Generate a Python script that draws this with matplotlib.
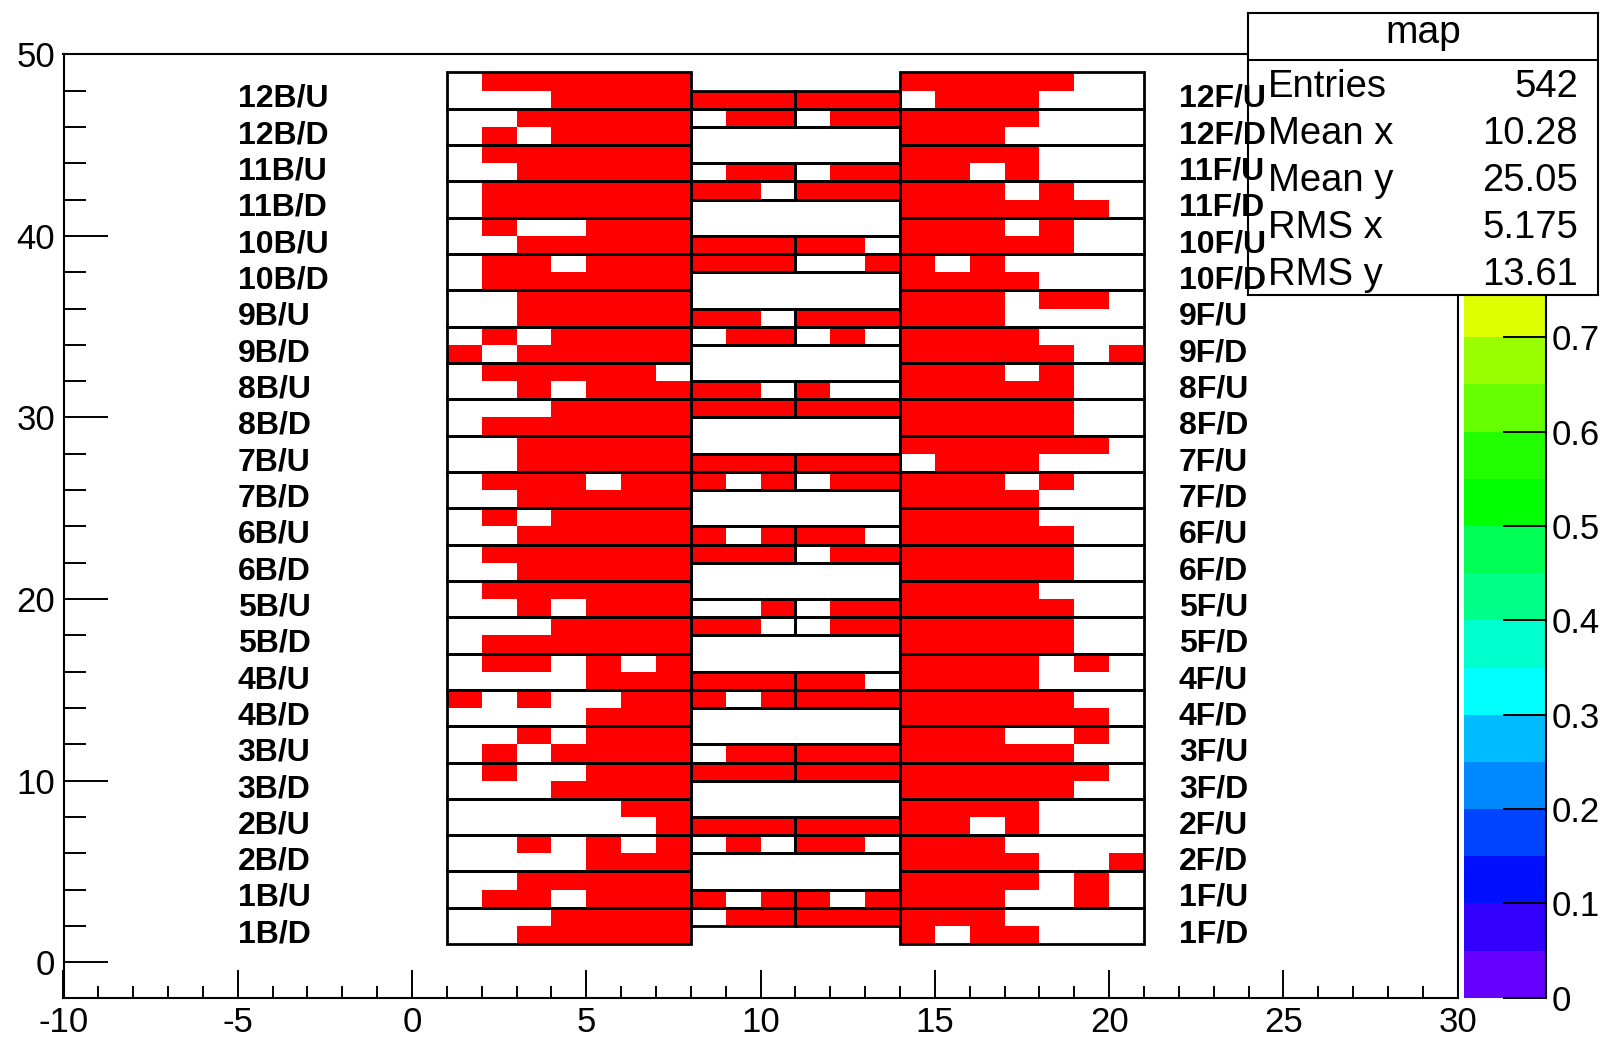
import numpy as np
import matplotlib
matplotlib.use("Agg")
import matplotlib.pyplot as plt
from matplotlib.colors import ListedColormap, Normalize
from matplotlib.patches import Rectangle
from matplotlib.ticker import MultipleLocator, FixedLocator, FuncFormatter

plt.rcParams['font.family'] = ['Liberation Sans', 'DejaVu Sans']
plt.rcParams['axes.unicode_minus'] = False

# Strip hit map, one string per strip row from y=1 (bottom) to y=49 (top);
# '#' marks a strip that fired, '.' an empty strip.
hit_rows = [
    "..#####......#.##...",
    "...####.########....",
    ".##.####.##.####..#.",
    "..#####......####.#.",
    "....###......####..#",
    "..#.#.#.#.##.###....",
    "......#########.#...",
    ".....##......####...",
    "...####......#####..",
    ".#..###############.",
    ".#.####.##########..",
    "..#.###......###..#.",
    "....###......######.",
    "#.#..###.#########..",
    "....########.####...",
    ".##.#.#......####.#.",
    ".######......#####..",
    "...######..#######..",
    "..#.###..#.#######..",
    ".######......####...",
    "..#####......#####..",
    ".#########.#######..",
    "..######.###.#####..",
    ".#.####......####...",
    "..#####......####...",
    ".###.###.#.#####.#..",
    "..###########.###...",
    "..#####......######.",
    ".######......#####..",
    "...###############..",
    "..#.#####.#..#####..",
    ".#####.......###.#..",
    "#.#####......#####.#",
    ".#.####.##.#.####...",
    "..#######.######....",
    "..#####......###.##.",
    ".######......####...",
    ".##.######..##.#....",
    "..##########.#####..",
    ".#..###......###.#..",
    ".######......######.",
    ".########.######.#..",
    "..#####.##.####.#...",
    ".######......####...",
    ".#.####......###....",
    "..#####.##.######...",
    "...##########.###...",
    ".######......#####..",
]

back_labels = ["1B/D", "1B/U", "2B/D", "2B/U", "3B/D", "3B/U", "4B/D", "4B/U",
               "5B/D", "5B/U", "6B/D", "6B/U", "7B/D", "7B/U", "8B/D", "8B/U",
               "9B/D", "9B/U", "10B/D", "10B/U", "11B/D", "11B/U", "12B/D", "12B/U"]
front_labels = ["1F/D", "1F/U", "2F/D", "2F/U", "3F/D", "3F/U", "4F/D", "4F/U",
                "5F/D", "5F/U", "6F/D", "6F/U", "7F/D", "7F/U", "8F/D", "8F/U",
                "9F/D", "9F/U", "10F/D", "10F/U", "11F/D", "11F/U", "12F/D", "12F/U"]

stats_title = "map"
stats_names = ["Entries", "Mean x", "Mean y", "RMS x", "RMS y"]
stats_values = ["542", "10.28", "25.05", "5.175", "13.61"]

# 20-level rainbow palette (0 -> 1)
palette = ["#6600ff", "#3300ff", "#0010ff", "#0044ff", "#0088ff",
           "#00bbff", "#00ffff", "#00ffcc", "#00ff88", "#00ff55",
           "#00ff00", "#22ff00", "#66ff00", "#99ff00", "#ddff00",
           "#ffff00", "#ffcc00", "#ff8800", "#ff4400", "#ff0000"]

# ---------------------------------------------------------------- layout
W, H = 1610, 1041
fig = plt.figure(figsize=(W / 100, H / 100), dpi=100)


def fig_rect(left, top, right, bottom):
    return [left / W, 1 - bottom / H, (right - left) / W, (bottom - top) / H]


ax = fig.add_axes(fig_rect(63.5, 54.3, 1457.7, 997.7))
cax = fig.add_axes(fig_rect(1464, 54.3, 1545.7, 997.7))

# ---------------------------------------------------------------- hit map
grid = np.array([[1.0 if c == "#" else np.nan for c in row] for row in hit_rows])
grid = np.ma.masked_invalid(grid)
x_edges = np.arange(1, grid.shape[1] + 2)
y_edges = np.arange(1, grid.shape[0] + 2)
cmap = ListedColormap(palette)
mesh = ax.pcolormesh(x_edges, y_edges, grid, cmap=cmap, norm=Normalize(0, 1),
                     edgecolors="none", antialiased=False, zorder=1)

# detector outline: strip rows of the two half-planes, the central strips
# and the dead regions between them
lw = 2.0


def outline(x0, y0, x1, y1):
    ax.add_patch(Rectangle((x0, y0), x1 - x0, y1 - y0, fill=False,
                           ec="black", lw=lw, zorder=3))


for k in range(24):
    y0 = 1 + 2 * k
    outline(1, y0, 8, y0 + 2)
    outline(14, y0, 21, y0 + 2)
for m in range(12):
    for y0 in (2 + 4 * m, 3 + 4 * m):
        outline(8, y0, 11, y0 + 1)
        outline(11, y0, 14, y0 + 1)
for m in range(11):
    outline(8, 4 + 4 * m, 14, 6 + 4 * m)

# ---------------------------------------------------------------- axes
tick_fs = 25
ax.set_xlim(-10, 30)
ax.set_ylim(-1.95, 50)
ax.xaxis.set_major_locator(MultipleLocator(5))
ax.xaxis.set_minor_locator(MultipleLocator(1))
ax.yaxis.set_major_locator(MultipleLocator(10))
ax.yaxis.set_minor_locator(MultipleLocator(2))
ax.tick_params(axis="x", which="major", direction="in", length=20, width=1.4,
               labelsize=tick_fs, pad=6, top=False)
ax.tick_params(axis="x", which="minor", direction="in", length=9, width=1.4, top=False)
ax.tick_params(axis="y", which="major", direction="in", length=31.7, width=1.4,
               labelsize=tick_fs, pad=6, right=False)
ax.tick_params(axis="y", which="minor", direction="in", length=15.8, width=1.4,
               right=False)
for s in ax.spines.values():
    s.set_linewidth(1.5)

# ---------------------------------------------------------------- colour scale
cb = fig.colorbar(mesh, cax=cax)
cb.outline.set_visible(False)
cax.yaxis.set_major_locator(FixedLocator(np.round(np.arange(0, 1.01, 0.1), 2)))
cax.yaxis.set_major_formatter(FuncFormatter(lambda v, p: "%g" % round(v, 2)))
cax.yaxis.set_minor_locator(FixedLocator([]))
cax.tick_params(axis="y", which="major", direction="in", length=31, width=1.4,
                labelsize=tick_fs, pad=4, right=True, left=False)
cax.plot([1, 1], [0, 1], transform=cax.transAxes, color="black", lw=1.5,
         clip_on=False, zorder=5)

# ---------------------------------------------------------------- statistics box
sb_l, sb_t, sb_r, sb_b = 1247.7, 12.7, 1598, 295
sax = fig.add_axes(fig_rect(sb_l, sb_t, sb_r, sb_b))
sax.set_zorder(10)
sax.set_xlim(sb_l, sb_r)
sax.set_ylim(sb_b, sb_t)
sax.set_xticks([])
sax.set_yticks([])
sax.set_facecolor("white")
for s in sax.spines.values():
    s.set_linewidth(1.5)
sax.plot([sb_l, sb_r], [60, 60], color="black", lw=1.5)
sax.text((sb_l + sb_r) / 2, 43.3, stats_title, ha="center", va="baseline", fontsize=28)
for n, (name, val) in enumerate(zip(stats_names, stats_values)):
    yb = 96.7 + 47 * n
    sax.text(1267.7, yb, name, ha="left", va="baseline", fontsize=27.5)
    sax.text(1578, yb, val, ha="right", va="baseline", fontsize=27.5)

# ---------------------------------------------------------------- layer names
for k in range(24):
    yb = 1.1 + 2 * k
    fig.text(-5, yb, back_labels[k], transform=ax.transData, ha="left",
             va="baseline", fontsize=23, fontweight="bold", zorder=11)
    fig.text(22, yb, front_labels[k], transform=ax.transData, ha="left",
             va="baseline", fontsize=23, fontweight="bold", zorder=11)

fig.savefig("out.png", dpi=100, facecolor="white")
